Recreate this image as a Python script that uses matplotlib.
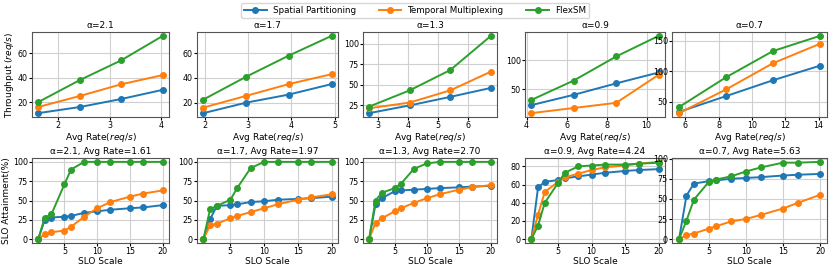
import matplotlib
matplotlib.use("Agg")
import matplotlib.pyplot as plt

alphas = ["2.1", "1.7", "1.3", "0.9", "0.7"]
avg_rates = ["1.61", "1.97", "2.70", "4.24", "5.63"]

# Top row: throughput vs avg rate
rate_x = [
    [1.61, 2.42, 3.22, 4.03],
    [1.97, 2.96, 3.94, 4.93],
    [2.70, 4.05, 5.40, 6.75],
    [4.24, 6.36, 8.48, 10.60],
    [5.63, 8.45, 11.26, 14.08],
]
thr_spatial = [
    [11, 16, 22.5, 30],
    [11.5, 20, 26.5, 35],
    [15, 24.5, 35, 46],
    [22, 40, 60, 79],
    [33, 59, 85, 109],
]
thr_temporal = [
    [16, 25, 34.5, 42],
    [16, 25.5, 35, 43],
    [21, 28, 43, 66],
    [8, 17, 26, 75],
    [31, 70, 113, 145],
]
thr_flexsm = [
    [20, 38, 54, 74],
    [22.5, 41, 58, 74],
    [23, 43, 68, 110],
    [31, 65, 107, 143],
    [41, 90, 133, 158],
]

# Bottom row: SLO attainment vs SLO scale
slo_scale = [1, 2, 3, 5, 6, 8, 10, 12, 15, 17, 20]
slo_spatial = [
    [0, 25, 28, 29, 30, 34, 36, 38, 40, 41, 44],
    [0, 26, 43, 44, 45, 48, 49, 51, 52, 53, 55],
    [0, 45, 53, 62, 63, 64, 65, 66, 67, 68, 69],
    [0, 57, 63, 65, 67, 69, 71, 73, 75, 76, 77],
    [0, 54, 69, 72, 73, 75, 76, 77, 79, 80, 81],
]
slo_temporal = [
    [0, 7, 9, 11, 16, 29, 40, 48, 55, 59, 63],
    [0, 18, 20, 27, 30, 35, 40, 45, 51, 54, 58],
    [0, 21, 27, 36, 40, 47, 53, 58, 64, 67, 70],
    [0, 27, 52, 63, 68, 72, 76, 79, 81, 83, 85],
    [0, 5, 7, 13, 16, 22, 25, 30, 38, 45, 55],
]
slo_flexsm = [
    [0, 28, 32, 71, 90, 100, 100, 100, 100, 100, 100],
    [0, 39, 43, 51, 66, 92, 100, 100, 100, 100, 100],
    [0, 50, 60, 66, 72, 91, 98, 100, 100, 100, 100],
    [0, 15, 40, 62, 73, 80, 81, 82, 82, 83, 84],
    [0, 23, 49, 71, 74, 78, 84, 89, 95, 95, 96],
]

labels = ["Spatial Partitioning", "Temporal Multiplexing", "FlexSM"]
colors = ["#1f77b4", "#ff7f0e", "#2ca02c"]

fig = plt.figure(figsize=(8.3, 2.67), dpi=100)
W, H = 830, 267
lefts = [32, 197, 363, 525, 672]
rights = [169, 338, 497, 665, 827]
top_row = (32, 117)
bot_row = (158, 243)

FS = 6.5
TFS = 5.8
kw = dict(lw=1.4, marker="o", ms=4)
handles = None
for i in range(5):
    l, r = lefts[i], rights[i]
    ax = fig.add_axes([l / W, 1 - top_row[1] / H, (r - l) / W, (top_row[1] - top_row[0]) / H])
    hs = []
    for ys, c, lab in zip([thr_spatial[i], thr_temporal[i], thr_flexsm[i]], colors, labels):
        h, = ax.plot(rate_x[i], ys, color=c, label=lab, **kw)
        hs.append(h)
    handles = hs
    ax.set_title(f"α={alphas[i]}", fontsize=FS, pad=3)
    ax.set_xlabel("Avg Rate($req/s$)", fontsize=FS, labelpad=0.5)
    if i == 0:
        ax.set_ylabel("Throughput ($req/s$)", fontsize=FS, labelpad=1.5)
    ax.grid(True, color="#d0d0d0", lw=0.8)
    ax.tick_params(labelsize=TFS, length=2, pad=1)
    for s in ax.spines.values():
        s.set_color("#555555")

    ax2 = fig.add_axes([l / W, 1 - bot_row[1] / H, (r - l) / W, (bot_row[1] - bot_row[0]) / H])
    for ys, c, lab in zip([slo_spatial[i], slo_temporal[i], slo_flexsm[i]], colors, labels):
        ax2.plot(slo_scale, ys, color=c, label=lab, **kw)
    ax2.set_title(f"α={alphas[i]}, Avg Rate={avg_rates[i]}", fontsize=FS, pad=3)
    ax2.set_xlabel("SLO Scale", fontsize=FS, labelpad=0.5)
    if i == 0:
        ax2.set_ylabel("SLO Attainment(%)", fontsize=FS, labelpad=1.5)
    ax2.set_xticks([5, 10, 15, 20])
    if i == 3:
        ax2.set_yticks([0, 20, 40, 60, 80])
    else:
        ax2.set_yticks([0, 25, 50, 75, 100])
    ax2.grid(True, color="#d0d0d0", lw=0.8)
    ax2.tick_params(labelsize=TFS, length=2, pad=1)
    for s in ax2.spines.values():
        s.set_color("#555555")

fig.legend(handles, labels, loc="upper center", bbox_to_anchor=(0.5, 1.005), ncol=3,
           fontsize=6.3, frameon=True, handlelength=2.6, columnspacing=2.6,
           borderpad=0.35, handletextpad=0.7)

fig.savefig("out.png", dpi=100)
